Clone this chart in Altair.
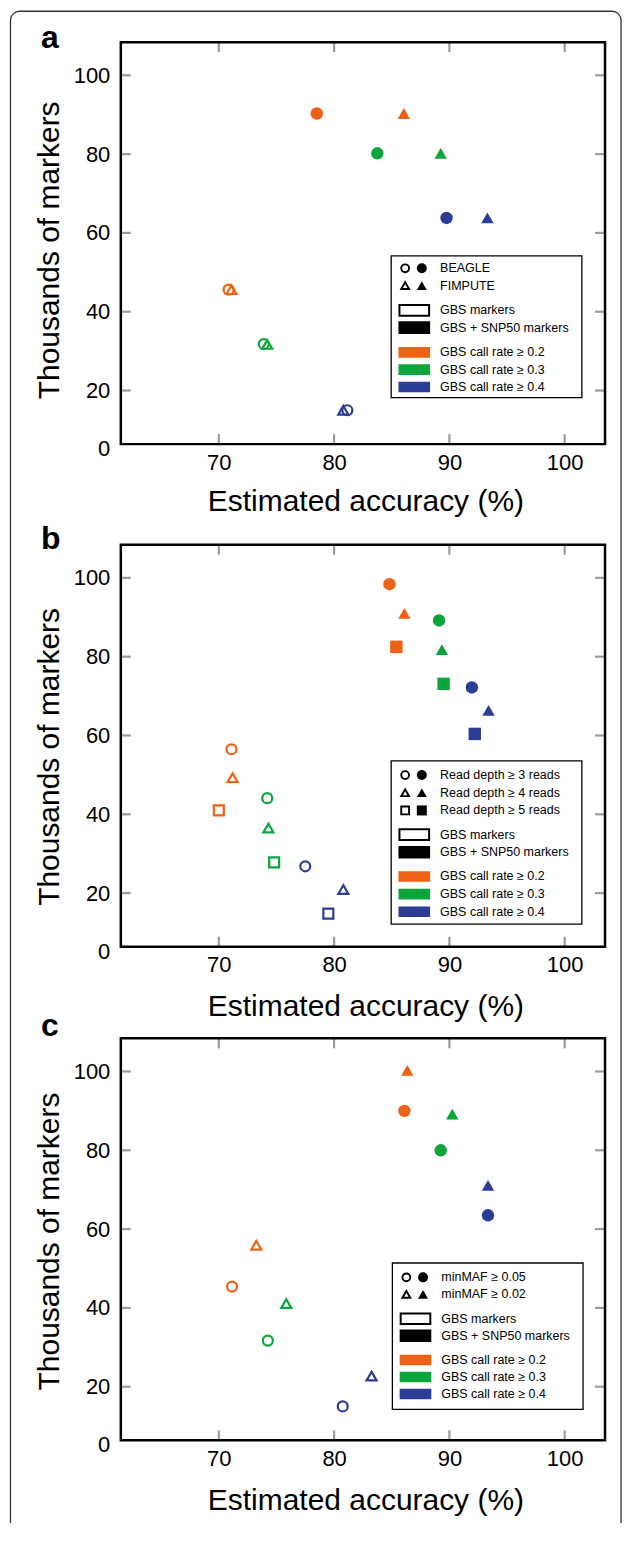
import altair as alt
import pandas as pd

FONT = "Liberation Sans"

# ---------------- shared categories / labels ----------------
call_rates = ["0.2", "0.3", "0.4"]
call_rate_colors = ["#EF6115", "#0BA53B", "#2C3D96"]
marker_set_labels = ["GBS markers", "GBS + SNP50 markers"]
call_rate_labels = ["GBS call rate \u2265 0.2", "GBS call rate \u2265 0.3", "GBS call rate \u2265 0.4"]
shape_names = ["circle", "triangle-up", "square"]
x_tick_values = [70, 80, 90, 100]
y_tick_values = [20, 40, 60, 80, 100]

# ---------------- panel a ----------------
a_methods = ["BEAGLE", "FIMPUTE"]
a_method = ["BEAGLE", "FIMPUTE"] * 6
a_rate = ["0.2", "0.2", "0.3", "0.3", "0.4", "0.4"] * 2
a_set = ["GBS + SNP50"] * 6 + ["GBS"] * 6
a_accuracy = [78.5, 86.05, 83.75, 89.25, 89.75, 93.3, 70.85, 71.1, 73.9, 74.2, 81.15, 80.8]
a_thousands = [90.3, 90.3, 80.2, 80.2, 63.8, 63.8, 45.6, 45.6, 31.8, 31.7, 15.0, 15.0]

# ---------------- panel b ----------------
b_methods = ["Read depth \u2265 3 reads", "Read depth \u2265 4 reads", "Read depth \u2265 5 reads"]
b_method = b_methods * 6
b_rate = (["0.2"] * 3 + ["0.3"] * 3 + ["0.4"] * 3) * 2
b_set = ["GBS + SNP50"] * 9 + ["GBS"] * 9
b_accuracy = [84.8, 86.1, 85.4, 89.1, 89.35, 89.5, 91.95, 93.4, 92.2,
              71.1, 71.2, 70.0, 74.2, 74.3, 74.8, 77.5, 80.8, 79.5]
b_thousands = [98.4, 91.0, 82.5, 89.2, 81.8, 73.1, 72.2, 66.4, 60.4,
               56.5, 49.3, 41.0, 44.1, 36.5, 27.8, 26.8, 20.9, 14.8]

# ---------------- panel c ----------------
c_methods = ["minMAF \u2265 0.05", "minMAF \u2265 0.02"]
c_method = c_methods * 6
c_rate = ["0.2", "0.2", "0.3", "0.3", "0.4", "0.4"] * 2
c_set = ["GBS + SNP50"] * 6 + ["GBS"] * 6
c_accuracy = [86.1, 86.35, 89.25, 90.25, 93.35, 93.35, 71.15, 73.25, 74.25, 75.85, 80.75, 83.25]
c_thousands = [90.0, 100.3, 80.0, 89.2, 63.5, 71.1, 45.4, 55.9, 31.7, 41.1, 15.0, 22.7]

# ---------------- layout constants ----------------
W = 485
H = 402.6
X_DOMAIN = [61.5, 103.5]
Y_DOMAIN = [6.4, 108.4]
TICK_COLOR = "#9b9b9b"

one = pd.DataFrame({"k": [0]})


def legend_layers(methods, lx, ly, lh, first, step, gap):
    n = len(methods)
    sym = pd.DataFrame({"label": methods, "shape": shape_names[:n],
                        "ly": [ly + first + step * i for i in range(n)]})
    sets = pd.DataFrame({"label": marker_set_labels, "fillc": ["white", "black"],
                         "ly": [ly + first + step * (n + j) + gap for j in range(2)]})
    rates = pd.DataFrame({"label": call_rate_labels, "fillc": call_rate_colors,
                          "ly": [ly + first + step * (n + 2 + k) + 2 * gap for k in range(3)]})
    for d in (sets, rates):
        d["y1"] = d["ly"] - 5.3
        d["y2"] = d["ly"] + 5.3
    texts = pd.concat([sym[["label", "ly"]], sets[["label", "ly"]], rates[["label", "ly"]]])

    box = alt.Chart(one).mark_rect(fill="white", stroke="black", strokeWidth=1.3).encode(
        x=alt.value(lx), x2=alt.value(lx + 191), y=alt.value(ly), y2=alt.value(ly + lh))
    open_sym = alt.Chart(sym).mark_point(filled=False, color="black", size=62, strokeWidth=1.9,
                                         opacity=1).encode(
        x=alt.value(lx + 14), y=alt.Y("ly:Q", scale=None), shape=alt.Shape("shape:N", scale=None))
    fill_sym = alt.Chart(sym).mark_point(filled=True, color="black", size=100, opacity=1).encode(
        x=alt.value(lx + 30.7), y=alt.Y("ly:Q", scale=None), shape=alt.Shape("shape:N", scale=None))
    set_sw = alt.Chart(sets).mark_rect(stroke="black", strokeWidth=2).encode(
        x=alt.value(lx + 8.3), x2=alt.value(lx + 38), y=alt.Y("y1:Q", scale=None), y2="y2:Q",
        fill=alt.Fill("fillc:N", scale=None))
    rate_sw = alt.Chart(rates).mark_rect(strokeWidth=0).encode(
        x=alt.value(lx + 7.3), x2=alt.value(lx + 39), y=alt.Y("y1:Q", scale=None), y2="y2:Q",
        fill=alt.Fill("fillc:N", scale=None))
    txt = alt.Chart(texts).mark_text(align="left", baseline="middle", font=FONT, fontSize=12.5,
                                     color="black").encode(
        x=alt.value(lx + 49), y=alt.Y("ly:Q", scale=None), text="label:N")
    return [box, set_sw, rate_sw, open_sym, fill_sym, txt]


def make_panel(letter, letter_y, methods, method, rate, mset, acc, thou, extra,
               ytitle_y, xtitle_y, leg, border=False):
    shape_of = {m: shape_names[i] for i, m in enumerate(methods)}
    df = pd.DataFrame({"acc": acc, "thou": thou, "rate": rate, "method": method, "mset": mset})
    df["shape"] = df["method"].map(shape_of)
    xs = alt.Scale(domain=X_DOMAIN, nice=False, zero=False)
    ys = alt.Scale(domain=Y_DOMAIN, nice=False, zero=False, range=[H, 0])
    xaxis = alt.Axis(values=x_tick_values, ticks=False, domain=False, grid=False,
                     labelFont=FONT, labelFontSize=22, labelColor="black", labelPadding=8,
                     labelFlush=False, title="Estimated accuracy (%)", titleFont=FONT,
                     titleFontSize=30, titleFontWeight="normal", titleColor="black",
                     titleX=245, titleY=xtitle_y, titleAlign="center",
                     titleBaseline="alphabetic", offset=-extra)
    yaxis = alt.Axis(values=[Y_DOMAIN[0]] + y_tick_values,
                     labelExpr="datum.value < 10 ? '0' : datum.label",
                     labelOffset={"condition": {"test": "datum.value < 10", "value": 4.5}, "value": 0},
                     ticks=False, domain=False, grid=False, labelFont=FONT, labelFontSize=22,
                     labelColor="black", labelPadding=11, labelFlush=False,
                     title="Thousands of markers", titleFont=FONT, titleFontSize=30,
                     titleFontWeight="normal", titleColor="black", titleAngle=270,
                     titleX=-62, titleY=ytitle_y, titleAlign="center", titleBaseline="alphabetic")
    X = alt.X("acc:Q", scale=xs, axis=xaxis)
    Y = alt.Y("thou:Q", scale=ys, axis=yaxis)
    color = alt.Color("rate:N", scale=alt.Scale(domain=call_rates, range=call_rate_colors), legend=None)
    shape = alt.Shape("shape:N", scale=None)

    layers = []
    if border:
        layers.append(alt.Chart(one).mark_rect(fillOpacity=0, stroke="#333333", strokeWidth=1.3,
                                               cornerRadius=9).encode(
            x=alt.value(-110.5), x2=alt.value(501), y=alt.value(-31), y2=alt.value(1500)))

    xt = pd.DataFrame({"acc": x_tick_values})
    yt = pd.DataFrame({"thou": y_tick_values})
    rule = dict(color=TICK_COLOR, strokeWidth=2.2)
    layers += [
        alt.Chart(xt).mark_rule(**rule).encode(x=X, y=alt.value(H), y2=alt.value(H - 10)),
        alt.Chart(xt).mark_rule(**rule).encode(x=X, y=alt.value(0), y2=alt.value(10)),
        alt.Chart(yt).mark_rule(**rule).encode(y=Y, x=alt.value(0), x2=alt.value(10)),
        alt.Chart(yt).mark_rule(**rule).encode(y=Y, x=alt.value(W - 10), x2=alt.value(W)),
    ]
    base = alt.Chart(df)
    layers += [
        base.transform_filter("datum.mset == 'GBS'").mark_point(
            filled=False, size=100, strokeWidth=2.2, opacity=1).encode(x=X, y=Y, color=color, shape=shape),
        base.transform_filter("datum.mset == 'GBS + SNP50'").mark_point(
            filled=True, size=155, opacity=1).encode(x=X, y=Y, color=color, shape=shape),
    ]
    layers += legend_layers(methods, *leg)
    layers.append(alt.Chart(one).mark_rect(fillOpacity=0, stroke="black", strokeWidth=2.5).encode(
        x=alt.value(0), x2=alt.value(W), y=alt.value(0), y2=alt.value(H)))
    layers.append(alt.Chart(one).mark_text(text=letter, font=FONT, fontSize=32, fontWeight="bold",
                                           align="left", baseline="alphabetic", color="black").encode(
        x=alt.value(-80), y=alt.value(letter_y)))
    return alt.layer(*layers).properties(width=W, height=H + extra)


pa = make_panel("a", 6.3, a_methods, a_method, a_rate, a_set, a_accuracy, a_thousands, 8.6,
                208, 66, (270.8, 214, 142, 12.5, 17.3, 7.5), border=True)
pb = make_panel("b", 4.7, b_methods, b_method, b_rate, b_set, b_accuracy, b_thousands, 0,
                212, 68.5, (270.8, 216.4, 163.6, 14.3, 17.7, 6.5))
pc = make_panel("c", -2.5, c_methods, c_method, c_rate, c_set, c_accuracy, c_thousands, 0,
                203, 69.8, (272, 225, 146.7, 14.4, 17.0, 7.4))

chart = alt.vconcat(pa, pb, pc, spacing=91.4, bounds="flush").properties(
    padding={"left": 1, "top": 1, "right": 0, "bottom": -19}
).configure(font=FONT).configure_view(strokeWidth=0)

chart.save("out.html", embed_options={"renderer": "svg", "actions": False})
